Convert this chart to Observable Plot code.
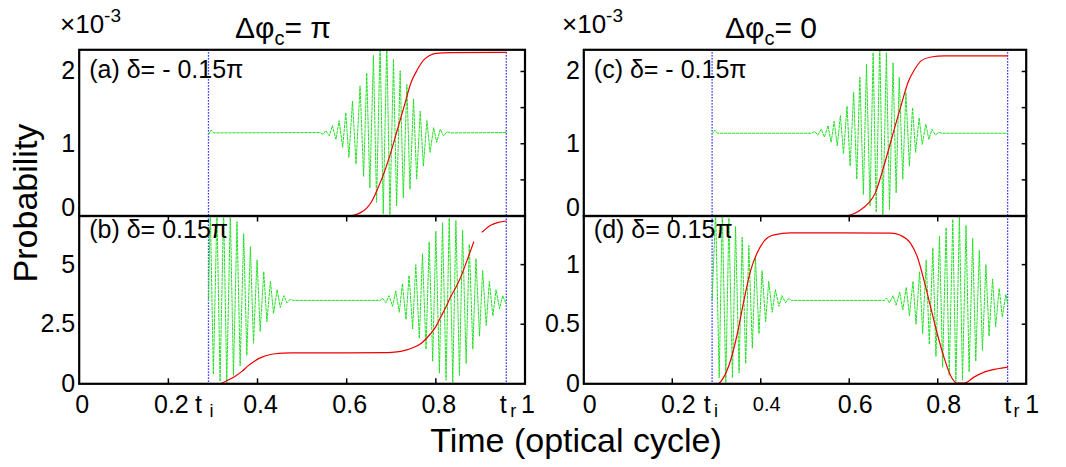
<!DOCTYPE html>
<html><head><meta charset="utf-8">
<script src="https://cdn.jsdelivr.net/npm/d3@7"></script>
<script src="https://cdn.jsdelivr.net/npm/@observablehq/plot@0.6"></script>
<style>
html,body{margin:0;padding:0;background:#fff;}
#fig{position:relative;width:1066px;height:467px;overflow:hidden;font-family:"Liberation Sans",Arial,Helvetica,sans-serif;}
#fig svg{position:absolute;left:0;top:0;}
</style></head><body><div id="fig"></div>
<script>
// ---------------- data ----------------
const timeMarks = [0.29, 0.958];               // t_i, t_r
const timeMarkMain = ["t", "t"];
const timeMarkSub = ["i", "r"];
const xTickValues = [0, 0.2, 0.4, 0.6, 0.8, 1];
const xTickLabels = ["0", "0.2", "0.4", "0.6", "0.8", "1"];
const xInnerTicks = [0.2, 0.4, 0.6, 0.8];

const yTicksTop = [0, 1, 2];
const yTickLabelsTop = ["0", "1", "2"];
const yMinorTop = [0.5, 1, 1.5, 2];
const yTicksB = [0, 2.5, 5];
const yTickLabelsB = ["0", "2.5", "5"];
const yMinorB = [2.5, 5];
const yTicksD = [0, 0.5, 1];
const yTickLabelsD = ["0", "0.5", "1"];
const yMinorD = [0.5, 1];

const panelLabels = ["(a) δ= - 0.15π", "(b) δ= 0.15π", "(c) δ= - 0.15π", "(d) δ= 0.15π"];
const columnTitles = ["π", "0"];

// green (dotted) curves: [time, probability ×1e-3] at the extrema
const greenA = [[0.290,1.13],[0.296,1.19],[0.302,1.15],[0.540,1.155],
[0.547,1.13],[0.553,1.18],[0.561,1.11],[0.568,1.25],[0.576,1.06],[0.583,1.32],[0.591,0.95],[0.598,1.43],[0.605,0.81],[0.613,1.59],[0.621,0.72],[0.630,1.80],[0.638,0.55],[0.645,1.98],[0.652,0.39],[0.660,2.22],[0.667,0.19],[0.675,2.40],[0.682,0.03],[0.690,2.40],[0.697,0.02],[0.705,2.17],[0.712,0.14],[0.720,2.01],[0.727,0.25],[0.735,1.82],[0.742,0.37],[0.750,1.62],[0.757,0.51],[0.765,1.45],[0.772,0.69],[0.780,1.32],[0.787,0.88],[0.795,1.22],[0.802,1.02],[0.810,1.20],[0.817,1.11],[0.825,1.165],[0.832,1.15],[0.958,1.155]];
const greenC = [[0.290,1.13],[0.296,1.19],[0.302,1.145],[0.515,1.145],
[0.522,1.17],[0.529,1.12],[0.537,1.20],[0.544,1.09],[0.552,1.25],[0.559,1.02],[0.566,1.31],[0.573,0.97],[0.580,1.39],[0.587,0.86],[0.595,1.52],[0.602,0.69],[0.610,1.71],[0.617,0.51],[0.624,1.92],[0.632,0.30],[0.639,2.10],[0.647,0.14],[0.654,2.26],[0.661,0.05],[0.669,2.40],[0.676,-0.02],[0.684,2.26],[0.691,0.09],[0.699,2.12],[0.706,0.32],[0.713,1.92],[0.721,0.51],[0.728,1.71],[0.736,0.69],[0.743,1.50],[0.750,0.88],[0.758,1.36],[0.765,0.99],[0.773,1.27],[0.780,1.06],[0.787,1.20],[0.795,1.12],[0.802,1.16],[0.810,1.145],[0.958,1.145]];
const greenB = [[0.290,3.5],[0.294,7.3],[0.301,0.4],[0.309,7.3],[0.316,0.1],[0.324,7.3],[0.331,0.0],[0.339,7.2],[0.346,0.35],[0.354,6.8],[0.361,0.75],[0.369,6.3],[0.376,1.2],[0.384,5.75],[0.391,1.7],[0.399,5.2],[0.406,2.2],[0.414,4.7],[0.421,2.6],[0.429,4.3],[0.436,2.95],[0.444,3.95],[0.451,3.2],[0.459,3.7],[0.466,3.4],[0.474,3.55],[0.480,3.5],[0.676,3.5],
[0.680,3.6],[0.688,3.4],[0.695,3.7],[0.703,3.25],[0.710,3.9],[0.718,3.0],[0.725,4.2],[0.733,2.7],[0.740,4.55],[0.748,2.3],[0.755,5.0],[0.763,1.9],[0.770,5.45],[0.778,1.45],[0.785,5.95],[0.793,0.95],[0.800,6.4],[0.808,0.45],[0.815,6.75],[0.823,0.15],[0.830,6.95],[0.838,0.05],[0.845,6.85],[0.853,0.35],[0.860,6.45],[0.868,0.85],[0.875,5.85],[0.883,1.45],[0.890,5.25],[0.898,2.0],[0.905,4.75],[0.913,2.45],[0.920,4.3],[0.928,2.85],[0.935,3.95],[0.943,3.15],[0.950,3.7],[0.958,3.35]];
const greenD = [[0.290,0.70],[0.298,1.45],[0.306,0.05],[0.313,1.45],[0.321,0.01],[0.328,1.39],[0.336,0.05],[0.343,1.32],[0.351,0.09],[0.358,1.23],[0.366,0.17],[0.373,1.16],[0.381,0.30],[0.388,1.06],[0.396,0.42],[0.403,0.95],[0.411,0.52],[0.418,0.86],[0.426,0.60],[0.433,0.79],[0.441,0.65],[0.448,0.74],[0.456,0.68],[0.463,0.715],[0.470,0.70],[0.680,0.70],
[0.684,0.72],[0.691,0.68],[0.699,0.74],[0.706,0.66],[0.714,0.77],[0.721,0.62],[0.729,0.81],[0.736,0.57],[0.744,0.86],[0.751,0.50],[0.759,0.94],[0.766,0.42],[0.774,1.04],[0.781,0.33],[0.789,1.14],[0.796,0.23],[0.804,1.24],[0.811,0.14],[0.819,1.31],[0.826,0.07],[0.834,1.38],[0.841,0.02],[0.849,1.40],[0.856,0.03],[0.864,1.33],[0.871,0.10],[0.879,1.22],[0.886,0.19],[0.894,1.12],[0.901,0.28],[0.909,1.00],[0.916,0.40],[0.924,0.88],[0.931,0.48],[0.939,0.80],[0.946,0.56],[0.954,0.75],[0.958,0.67]];

// red (solid) curves
const redA = [[0.29,0],[0.60,0],[0.615,0.01],[0.632,0.05],[0.645,0.11],[0.654,0.18],[0.669,0.37],[0.684,0.60],[0.699,0.88],[0.714,1.20],[0.729,1.52],[0.744,1.84],[0.759,2.03],[0.773,2.16],[0.786,2.22],[0.800,2.25],[0.833,2.262],[0.958,2.265]];
const redC = [[0.29,0],[0.585,0],[0.600,0.01],[0.622,0.07],[0.644,0.18],[0.659,0.32],[0.674,0.60],[0.689,0.92],[0.704,1.25],[0.719,1.57],[0.733,1.85],[0.748,2.03],[0.763,2.15],[0.785,2.20],[0.815,2.215],[0.958,2.216]];
const redB = [[0.29,0],[0.314,0],[0.330,0.12],[0.350,0.32],[0.365,0.52],[0.378,0.74],[0.393,0.95],[0.410,1.12],[0.425,1.21],[0.440,1.26],[0.458,1.29],[0.475,1.30],[0.600,1.30],[0.684,1.31],[0.700,1.32],[0.721,1.36],[0.744,1.48],[0.766,1.68],[0.788,2.10],[0.800,2.40],[0.811,2.80],[0.822,3.20],[0.833,3.64],[0.845,4.05],[0.856,4.48],[0.870,5.18],[0.885,5.95],[0.894,NaN],[0.904,6.37],[0.923,6.65],[0.940,6.77],[0.958,6.83]];
const redD = [[0.29,0],[0.302,0],[0.317,0.06],[0.332,0.20],[0.347,0.42],[0.362,0.70],[0.377,0.95],[0.392,1.10],[0.408,1.20],[0.430,1.25],[0.468,1.266],[0.694,1.265],[0.716,1.246],[0.739,1.176],[0.754,1.064],[0.769,0.868],[0.784,0.644],[0.799,0.42],[0.814,0.224],[0.829,0.07],[0.844,0.005],[0.860,0.005],[0.882,0.056],[0.905,0.098],[0.935,0.126],[0.958,0.14]];

// ---------------- drawing ----------------
const W = 1066, H = 467;
const FONT = "'Liberation Sans', Arial, Helvetica, sans-serif";
const fig = document.getElementById("fig");

function panel(cfg) {
  const marks = [
    Plot.ruleX(timeMarks, {stroke: "#0000ff", strokeWidth: 1.3, strokeDasharray: "1.3,1.7"}),
    Plot.line(cfg.green, {x: d => d[0], y: d => d[1], stroke: "#22e022", strokeWidth: 1, strokeDasharray: "2.5,1.5", clip: true}),
    Plot.line(cfg.red, {x: d => d[0], y: d => d[1], curve: "monotone-x", stroke: "#ee0000", strokeWidth: 1.2, clip: true}),
    Plot.axisY({anchor: "right", ticks: cfg.yMinor, tickSize: -5, tickFormat: () => "", label: null, strokeWidth: 1.5}),
    Plot.text(cfg.yTicks, {y: d => d, frameAnchor: "left", text: (d, i) => cfg.yTickLabels[i], textAnchor: "end", dx: -4,
      fontSize: 25, lineAnchor: "middle", filter: (d, i) => i > 0 || !cfg.zeroDy}),
    Plot.text([panelLabels[cfg.idx]], {frameAnchor: "top-left", text: d => d, textAnchor: "start", lineAnchor: "top", dx: 10, dy: cfg.labelDy, fontSize: 25})
  ];
  if (cfg.zeroDy) {
    marks.push(Plot.text([cfg.yTicks[0]], {y: d => d, frameAnchor: "left", text: () => cfg.yTickLabels[0], textAnchor: "end", dx: -4, dy: cfg.zeroDy, fontSize: 25, lineAnchor: "middle"}));
  }
  if (cfg.bottomRow) {
    marks.push(
      Plot.axisX({anchor: "bottom", ticks: xInnerTicks, tickSize: -5, tickFormat: () => "", label: null, strokeWidth: 1.5}),
      Plot.axisX({anchor: "top", ticks: xInnerTicks, tickSize: -5, tickFormat: () => "", label: null, strokeWidth: 1.5}),
      Plot.text(xTickValues, {x: d => d, y: () => cfg.ydomain[0], text: (d, i) => xTickLabels[i], dx: cfg.labelDx, dy: 21,
        fontSize: (d, i) => (i === cfg.smallIdx ? 20 : 25), lineAnchor: "middle"})
    );
    timeMarks.forEach((tm, i) => {
      marks.push(
        Plot.text([tm], {x: d => d, y: () => cfg.ydomain[0], text: () => timeMarkMain[i], dx: cfg.tDx[i], dy: 21, fontSize: 25, lineAnchor: "middle"}),
        Plot.text([tm], {x: d => d, y: () => cfg.ydomain[0], text: () => timeMarkSub[i], dx: cfg.sDx[i], dy: 27, fontSize: 18, lineAnchor: "middle"})
      );
    });
  }
  marks.push(Plot.frame({stroke: "black", strokeWidth: 2.2}));
  const b = cfg.box;
  const svg = Plot.plot({
    width: W, height: H,
    marginLeft: b[0], marginRight: W - b[1], marginTop: b[2], marginBottom: H - b[3],
    x: {domain: [0, 1], axis: null},
    y: {domain: cfg.ydomain, axis: null},
    style: {background: "transparent", overflow: "visible", fontFamily: FONT, fontSize: "25px", color: "black"},
    marks
  });
  fig.appendChild(svg);
}

const LX = [78.7, 524.5], RX = [583.3, 1025.7];
const TY = [49.3, 215.5], BY = [215.5, 383.3];

panel({idx: 0, box: [LX[0], LX[1], TY[0], TY[1]], ydomain: [0, 2.3], green: greenA, red: redA,
  yTicks: yTicksTop, yTickLabels: yTickLabelsTop, yMinor: yMinorTop, zeroDy: -8, labelDy: 10});
panel({idx: 1, box: [LX[0], LX[1], BY[0], BY[1]], ydomain: [0, 7.04], green: greenB, red: redB,
  yTicks: yTicksB, yTickLabels: yTickLabelsB, yMinor: yMinorB, labelDy: 4, bottomRow: true,
  labelDx: 3, smallIdx: -1, tDx: [-10, -3], sDx: [3, 7]});
panel({idx: 2, box: [RX[0], RX[1], TY[0], TY[1]], ydomain: [0, 2.3], green: greenC, red: redC,
  yTicks: yTicksTop, yTickLabels: yTickLabelsTop, yMinor: yMinorTop, zeroDy: -8, labelDy: 10});
panel({idx: 3, box: [RX[0], RX[1], BY[0], BY[1]], ydomain: [0, 1.408], green: greenD, red: redD,
  yTicks: yTicksD, yTickLabels: yTickLabelsD, yMinor: yMinorD, labelDy: 4, bottomRow: true,
  labelDx: 6, smallIdx: 2, tDx: [-5, 0], sDx: [4, 9]});

// overall titles and axis labels
const ns = "http://www.w3.org/2000/svg";
const over = document.createElementNS(ns, "svg");
over.setAttribute("width", W); over.setAttribute("height", H);
over.setAttribute("font-family", FONT);
over.innerHTML = `
  <text x="60" y="33" font-size="26">×10<tspan font-size="19" dy="-11">-3</tspan></text>
  <text x="562" y="33" font-size="26">×10<tspan font-size="19" dy="-11">-3</tspan></text>
  <text x="235" y="38" font-size="30">Δφ<tspan font-size="20" dy="7">c</tspan><tspan dy="-7">= ${columnTitles[0]}</tspan></text>
  <text x="725" y="38" font-size="30">Δφ<tspan font-size="20" dy="7">c</tspan><tspan dy="-7">= ${columnTitles[1]}</tspan></text>
  <text transform="translate(37,203) rotate(-90)" text-anchor="middle" font-size="34">Probability</text>
  <text x="576" y="452" text-anchor="middle" font-size="34">Time (optical cycle)</text>`;
fig.appendChild(over);
</script>
</body></html>
